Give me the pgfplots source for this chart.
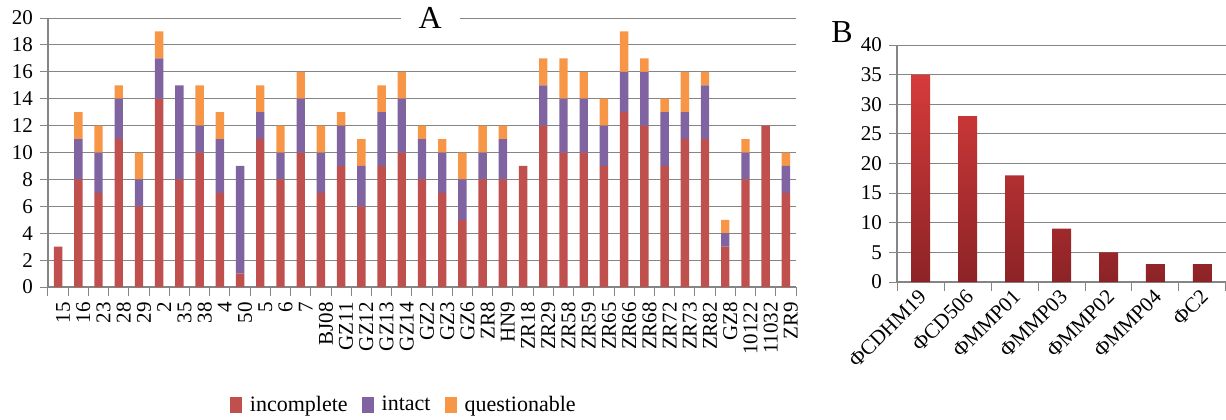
\documentclass[border=0pt]{standalone}
\usepackage{pgfplots}
\usepackage{pgfplotstable}
\pgfplotsset{compat=1.18}
\usepackage{fontspec}
\setmainfont{Liberation Serif}

\definecolor{incred}{HTML}{C0504D}
\definecolor{intpur}{HTML}{8064A2}
\definecolor{queor}{HTML}{F79646}
\definecolor{gridgray}{HTML}{858585}
\definecolor{btop}{HTML}{D63B3B}
\definecolor{bbot}{HTML}{8C2326}

\pgfplotsset{/pgf/number format/assume math mode=true}

% isolates per strain: incomplete / intact / questionable
\pgfplotstableread{
x name incomplete intact questionable
0 15 3 0 0
1 16 8 3 2
2 23 7 3 2
3 28 11 3 1
4 29 6 2 2
5 2 14 3 2
6 35 8 7 0
7 38 10 2 3
8 4 7 4 2
9 50 1 8 0
10 5 11 2 2
11 6 8 2 2
12 7 10 4 2
13 BJ08 7 3 2
14 GZ11 9 3 1
15 GZ12 6 3 2
16 GZ13 9 4 2
17 GZ14 10 4 2
18 GZ2 8 3 1
19 GZ3 7 3 1
20 GZ6 5 3 2
21 ZR8 8 2 2
22 HN9 8 3 1
23 ZR18 9 0 0
24 ZR29 12 3 2
25 ZR58 10 4 3
26 ZR59 10 4 2
27 ZR65 9 3 2
28 ZR66 13 3 3
29 ZR68 12 4 1
30 ZR72 9 4 1
31 ZR73 11 2 3
32 ZR82 11 4 1
33 GZ8 3 1 1
34 10122 8 2 1
35 11032 12 0 0
36 ZR9 7 2 1
}\dataA

% prophages
\pgfplotstableread{
x name count
0 ΦCDHM19 35
1 ΦCD506 28
2 ΦMMP01 18
3 ΦMMP03 9
4 ΦMMP02 5
5 ΦMMP04 3
6 ΦC2 3
}\dataB

\begin{document}
\begin{tikzpicture}
\path[use as bounding box] (0,0) rectangle (613pt,209.5pt);

\begin{axis}[
  at={(24pt,66pt)}, anchor=south west,
  scale only axis, width=374pt, height=134.5pt,
  ybar stacked, bar width=4.2pt,
  xmin=-0.5, xmax=36.5, ymin=0, ymax=20,
  ytick={0,2,...,20},
  xtick={0,...,36},
  xticklabels from table={\dataA}{name},
  minor xtick={-0.5,0.5,...,36.5},
  major x tick style={draw=none},
  minor x tick style={gridgray, line width=0.5pt},
  minor tick length=4.5pt, major tick length=4pt,
  tick align=outside,
  axis x line*=bottom, axis y line*=left,
  axis line style={gridgray, line width=0.6pt, -},
  ytick style={gridgray, line width=0.5pt},
  ymajorgrids, grid style={gridgray, line width=0.5pt},
  xticklabel style={rotate=90, anchor=east, yshift=-2.5pt,
    font=\fontsize{10.5}{10.5}\selectfont},
  yticklabel style={font=\fontsize{10.5}{10.5}\selectfont},
  clip=false,
  legend columns=3,
  legend style={at={(0.477,-0.439)}, anchor=center, draw=none,
    font=\fontsize{11}{11}\selectfont,
    /tikz/every odd column/.append style={column sep=2pt},
    /tikz/every even column/.append style={column sep=5pt}},
  legend image code/.code={\fill[#1] (0pt,-4pt) rectangle (6pt,4pt);},
]
\addplot[fill=incred, draw=none] table[x=x, y=incomplete]{\dataA};
\addplot[fill=intpur, draw=none] table[x=x, y=intact]{\dataA};
\addplot[fill=queor, draw=none] table[x=x, y=questionable]{\dataA};
\legend{incomplete, intact, questionable}
\node[fill=white, inner xsep=9pt, inner ysep=1pt, font=\fontsize{16}{16}\selectfont]
  at (rel axis cs:0.511,1) {A};
\end{axis}

\begin{axis}[
  at={(448.5pt,68.5pt)}, anchor=south west,
  scale only axis, width=164.5pt, height=118.5pt,
  ybar, bar width=9.5pt,
  xmin=-0.5, xmax=6.5, ymin=0, ymax=40,
  ytick={0,5,...,40},
  xtick={0,...,6},
  xticklabels from table={\dataB}{name},
  minor xtick={-0.5,0.5,...,6.5},
  major x tick style={draw=none},
  minor x tick style={gridgray, line width=0.5pt},
  minor tick length=4.5pt, major tick length=4pt,
  tick align=outside,
  axis x line*=bottom, axis y line*=left,
  axis line style={gridgray, line width=0.6pt, -},
  ytick style={gridgray, line width=0.5pt},
  ymajorgrids, grid style={gridgray, line width=0.5pt},
  xticklabel style={rotate=45, anchor=east, xshift=3pt, yshift=-2pt,
    font=\fontsize{10.5}{10.5}\selectfont},
  yticklabel style={font=\fontsize{10.5}{10.5}\selectfont},
  clip=false,
]
\addplot[draw=none, top color=btop, bottom color=bbot] table[x=x, y=count]{\dataB};
\node[font=\fontsize{16}{16}\selectfont] at (rel axis cs:-0.167,1.055) {B};
\end{axis}
\end{tikzpicture}
\end{document}
